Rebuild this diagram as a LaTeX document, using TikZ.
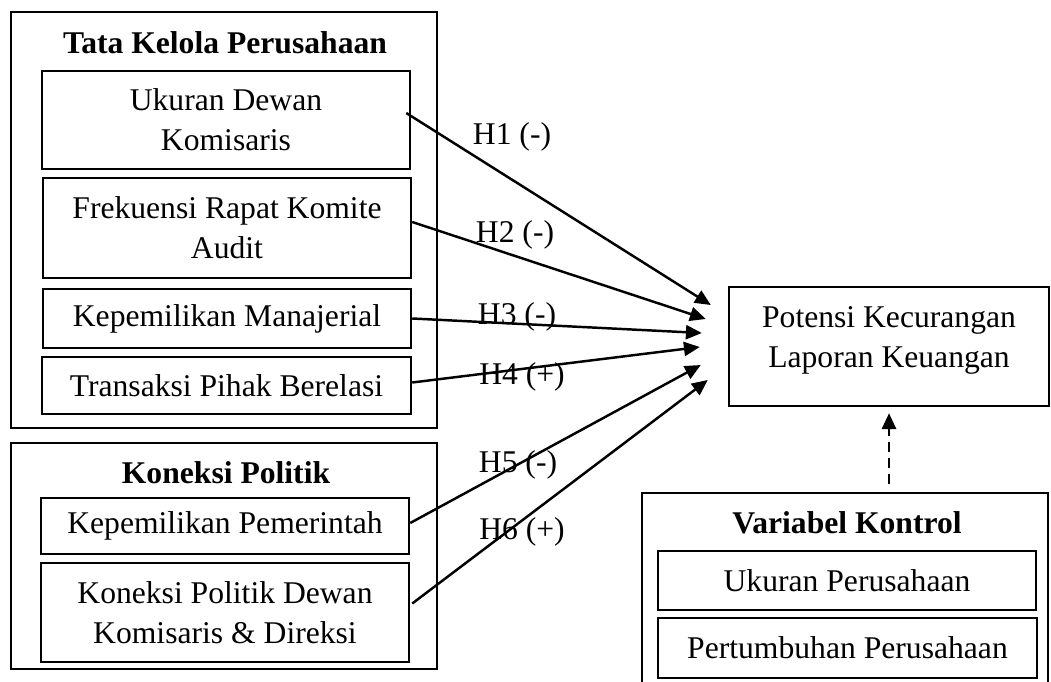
\documentclass[tikz,border=0pt]{standalone}
\usepackage{fontspec}
\setmainfont{Liberation Serif}
\usetikzlibrary{arrows.meta,calc}

\begin{document}
\begin{tikzpicture}[x=0.02cm, y=-0.02cm,
    font=\fontsize{18}{22.8}\selectfont,
    box/.style={draw, line width=1.4pt, align=center, inner sep=0pt},
    grp/.style={draw, line width=1.4pt, inner sep=0pt},
    head/.style={font=\fontsize{18}{22.8}\selectfont\bfseries},
    arr/.style={line width=1.4pt, -{Triangle[length=9pt, width=8pt]}},
    dasharr/.style={line width=1.4pt, dash pattern=on 5.5pt off 3.5pt, -{Triangle[length=9pt, width=8pt]}}]
    \useasboundingbox (0,0) rectangle (1051,682);
    \clip (0,0) rectangle (1051,682);

    \node[grp, minimum width=426*0.02cm, minimum height=416*0.02cm] (tata) at (224, 220) {};
    \node[head] (tataT) at (225, 43) {Tata Kelola Perusahaan};
    \node[box, minimum width=368*0.02cm, minimum height=98*0.02cm] (ukuran) at (226, 120) {Ukuran Dewan\\Komisaris};
    \node[box, minimum width=368*0.02cm, minimum height=100*0.02cm] (frek) at (227, 228) {Frekuensi Rapat Komite\\Audit};
    \node[box, minimum width=368*0.02cm, minimum height=59*0.02cm] (manaj) at (227, 318.5) {Kepemilikan Manajerial};
    \node[box, minimum width=369*0.02cm, minimum height=57*0.02cm] (trans) at (226.5, 385.5) {Transaksi Pihak Berelasi};

    \node[grp, minimum width=426*0.02cm, minimum height=226*0.02cm] (koneksi) at (224, 556) {};
    \node[head] (koneksiT) at (226, 473) {Koneksi Politik};
    \node[box, minimum width=368*0.02cm, minimum height=56*0.02cm] (pemerintah) at (225, 526) {Kepemilikan Pemerintah};
    \node[box, minimum width=368*0.02cm, minimum height=99*0.02cm] (dewan) at (225, 612.5) {Koneksi Politik Dewan\\Komisaris \& Direksi};

    \node[box, minimum width=320*0.02cm, minimum height=119*0.02cm] (potensi) at (889, 346.5) {Potensi Kecurangan\\Laporan Keuangan\\[-12pt]};

    \node[grp, minimum width=406*0.02cm, minimum height=214*0.02cm] (variabel) at (845, 600) {};
    \node[head] (variabelT) at (847, 523) {Variabel Kontrol};
    \node[box, minimum width=378*0.02cm, minimum height=59*0.02cm] (ukuranp) at (847, 580.5) {Ukuran Perusahaan};
    \node[box, minimum width=379*0.02cm, minimum height=60*0.02cm] (tumbuh) at (847.5, 648) {Pertumbuhan Perusahaan};

    \coordinate (t1) at ($(potensi.west)+(-17,-41.5)$);
    \coordinate (t2) at ($(potensi.west)+(-22,-27.5)$);
    \coordinate (t3) at ($(potensi.west)+(-26,-13.5)$);
    \coordinate (t4) at ($(potensi.west)+(-28,0.5)$);
    \coordinate (t5) at ($(potensi.west)+(-27,18.5)$);
    \coordinate (t6) at ($(potensi.west)+(-20,33.5)$);

    \draw[arr] ($(ukuran.east)+(-5,-7)$) -- (t1);
    \draw[arr] ($(frek.east)+(0,-6)$) -- (t2);
    \draw[arr] (manaj.east) -- (t3);
    \draw[arr] ($(trans.east)+(0,-3)$) -- (t4);
    \draw[arr] ($(pemerintah.east)+(0,-3)$) -- (t5);
    \draw[arr] ($(dewan.east)+(2,-9)$) -- (t6);
    \draw[dasharr, shorten <=0.16cm, shorten >=0.12cm] (potensi.south |- variabel.north) -- (potensi.south);

    \node (h1) at (512, 137) {H1 (-)};
    \node (h2) at (515, 235) {H2 (-)};
    \node (h3) at (517, 317) {H3 (-)};
    \node (h4) at (522, 377) {H4 (+)};
    \node (h5) at (518, 465) {H5 (-)};
    \node (h6) at (522, 532) {H6 (+)};
\end{tikzpicture}
\end{document}
